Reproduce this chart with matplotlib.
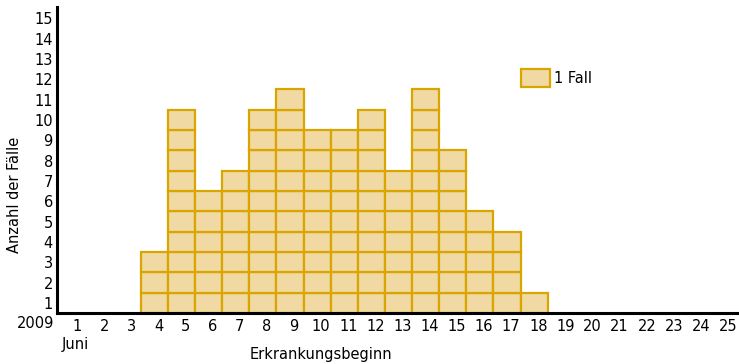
import matplotlib
matplotlib.use("Agg")
import matplotlib.pyplot as plt
from matplotlib.patches import Patch
import numpy as np

# data: cases per day of onset (June 2009)
days = np.arange(4, 19)
cases = np.array([3, 10, 6, 7, 10, 11, 9, 9, 10, 7, 11, 8, 5, 4, 1])
x_ticks = np.arange(1, 26)
y_ticks = np.arange(1, 16)

fill_col = "#F0D9A3"
edge_col = "#DBA500"

plt.rcParams.update({
    "font.family": "DejaVu Sans",
    "font.size": 10,
})

W, H = 739, 364
fig = plt.figure(figsize=(W / 100, H / 100), dpi=100)
ax = fig.add_axes([57 / W, (H - 313) / H, (W - 57) / W, (313 - 7) / H])

# one box per case, stacked
for k in range(1, cases.max() + 1):
    sel = cases >= k
    ax.bar(days[sel] - 0.15, 1, bottom=k - 1, width=1.0,
           color=fill_col, edgecolor=edge_col, linewidth=1.6, zorder=2)

ax.set_xlim(0.26, 25.4)
ax.set_ylim(0, 15.05)

ax.set_xticks(x_ticks)
ax.set_xticklabels([str(d) for d in x_ticks])
ax.set_yticks(y_ticks - 0.5)
ax.set_yticklabels([str(v) for v in y_ticks])
ax.tick_params(axis="both", length=0, labelsize=10.5)
ax.tick_params(axis="x", pad=4)
ax.tick_params(axis="y", pad=3)

for s in ["top", "right"]:
    ax.spines[s].set_visible(False)
for s in ["left", "bottom"]:
    ax.spines[s].set_linewidth(2.2)
    ax.spines[s].set_zorder(3)

fig.text(36 / W, 1 - 324 / H, "2009", ha="center", va="center", fontsize=10.5)
fig.text(75 / W, 1 - 345 / H, "Juni", ha="center", va="center", fontsize=10.5)
fig.text(321 / W, 1 - 355 / H, "Erkrankungsbeginn", ha="center", va="center", fontsize=10.5)
fig.text(15 / W, 1 - 195 / H, "Anzahl der Fälle", ha="center", va="center",
         rotation=90, fontsize=10.5)

handle = Patch(facecolor=fill_col, edgecolor=edge_col, linewidth=1.6)
fig.legend([handle], ["1 Fall"], loc="center left",
           bbox_to_anchor=(514 / W, 1 - 78 / H), frameon=False,
           borderpad=0, handlelength=2.0, handleheight=1.5,
           handletextpad=0.25, fontsize=10.5)

fig.savefig("out.png", dpi=100)
